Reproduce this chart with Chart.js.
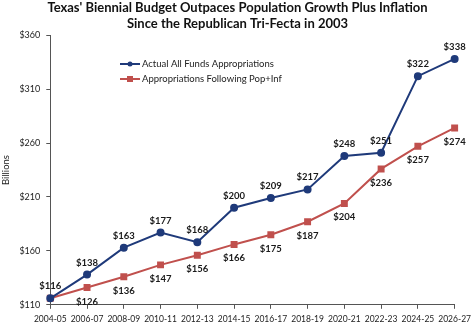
<!DOCTYPE html>
<html><head><meta charset="utf-8">
<script src="https://cdn.jsdelivr.net/npm/chart.js@4.4.0/dist/chart.umd.min.js"></script>
<style>html,body{margin:0;padding:0;background:#fff}#wrap{width:476px;height:329px;position:relative}</style>
</head><body><div id="wrap"><canvas id="c" width="476" height="329"></canvas></div>
<script>
const categories = ["2004-05","2006-07","2008-09","2010-11","2012-13","2014-15","2016-17","2018-19","2020-21","2022-23","2024-25","2026-27"];
const actualFunds = [116,138,163,177,168,200,209,217,248,251,322,338];
const popInflation = [116,126,136,147,156,166,175,187,204,236,257,274];
const yTicks = [110,160,210,260,310,360];
const seriesNames = ["Actual All Funds Appropriations","Appropriations Following Pop+Inf"];
const titleLines = ["Texas' Biennial Budget Outpaces Population Growth Plus Inflation","Since the Republican Tri-Fecta in 2003"];

const BLUE = "#1F3A7A", RED = "#C0504D";
const FONT = "Lato, 'Open Sans', sans-serif";

const labelPlugin = {
  id: 'labels',
  afterDatasetsDraw(chart) {
    const ctx = chart.ctx;
    ctx.save();
    ctx.font = "bold 9.5px " + FONT;
    ctx.fillStyle = "#1a1a1a";
    ctx.textAlign = "center";
    ctx.textBaseline = "middle";
    chart.data.datasets.forEach((ds, di) => {
      const meta = chart.getDatasetMeta(di);
      meta.data.forEach((pt, i) => {
        if (di === 1 && i === 0) return;
        const dy = di === 0 ? -12 : 14;
        ctx.fillText("$" + ds.data[i], pt.x, pt.y + dy);
      });
    });
    // legend
    const lx = 120, ly = [64, 79];
    chart.data.datasets.forEach((ds, di) => {
      const y = ly[di];
      ctx.strokeStyle = ds.borderColor; ctx.lineWidth = 2;
      ctx.beginPath(); ctx.moveTo(lx, y); ctx.lineTo(lx + 20, y); ctx.stroke();
      ctx.fillStyle = ds.backgroundColor;
      if (di === 0) { ctx.beginPath(); ctx.arc(lx + 10, y, 2.5, 0, Math.PI * 2); ctx.fill(); }
      else { ctx.fillRect(lx + 7, y - 3, 6, 6); }
      ctx.fillStyle = "#222"; ctx.textAlign = "left"; ctx.font = "9.5px " + FONT;
      ctx.fillText(ds.label, lx + 22, y);
    });
    ctx.restore();
  }
};

new Chart(document.getElementById('c'), {
  type: 'line',
  data: {
    labels: categories,
    datasets: [
      { label: seriesNames[0], data: actualFunds, borderColor: BLUE, backgroundColor: BLUE, borderWidth: 2, pointRadius: 3, pointStyle: 'circle', tension: 0 },
      { label: seriesNames[1], data: popInflation, borderColor: RED, backgroundColor: RED, borderWidth: 2, pointRadius: 3.5, pointStyle: 'rect', tension: 0 }
    ]
  },
  options: {
    responsive: false, animation: false, devicePixelRatio: 1,
    layout: { padding: { top: 0, right: 1, bottom: 0, left: 0 } },
    plugins: {
      legend: { display: false }, tooltip: { enabled: false },
      title: { display: true, text: titleLines, font: { family: FONT, size: 13, weight: 'bold' }, color: '#111', padding: { top: 0, bottom: 4 }, lineHeight: 1.35 }
    },
    scales: {
      x: {
        offset: false,
        grid: { display: true, drawOnChartArea: false, drawTicks: true, tickLength: 4, color: '#555' },
        border: { color: '#555', width: 1 },
        ticks: { color: '#222', font: { family: FONT, size: 8.5 }, maxRotation: 0, autoSkip: false, padding: 5 }
      },
      y: {
        min: 110, max: 360,
        afterBuildTicks(axis) { axis.ticks = yTicks.map(v => ({ value: v })); },
        grid: { display: true, drawOnChartArea: false, drawTicks: true, tickLength: 4, color: '#555' },
        border: { color: '#555', width: 1 },
        ticks: { color: '#222', font: { family: FONT, size: 9 }, padding: 6, callback: v => '$' + v },
        title: { display: true, text: 'Billions', color: '#222', font: { family: FONT, size: 9.5 }, padding: { top: 0, bottom: 2 } }
      }
    }
  },
  plugins: [labelPlugin]
});
</script></body></html>
